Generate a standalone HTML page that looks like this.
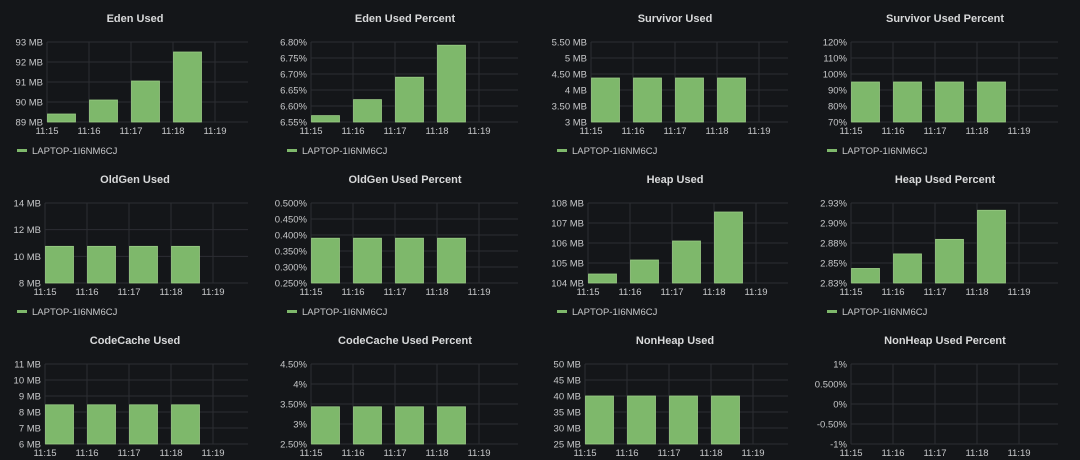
<!DOCTYPE html>
<html><head><meta charset="utf-8"><style>
html,body{margin:0;padding:0;background:#141619;width:1080px;height:460px;overflow:hidden}
svg{display:block;font-family:"Liberation Sans",sans-serif}
</style></head><body>
<svg id="c" width="1080" height="460"></svg>
<script>
const titles=["Eden Used","Eden Used Percent","Survivor Used","Survivor Used Percent","OldGen Used","OldGen Used Percent","Heap Used","Heap Used Percent","CodeCache Used","CodeCache Used Percent","NonHeap Used","NonHeap Used Percent"];
const times=["11:15","11:16","11:17","11:18","11:19"];
const edenUsed=[89.4,90.1,91.05,92.5];
const edenPct=[6.57,6.62,6.69,6.79];
const survUsed=[4.375,4.375,4.375,4.375];
const survPct=[95,95,95,95];
const oldUsed=[10.75,10.75,10.75,10.75];
const oldPct=[0.39,0.39,0.39,0.39];
const heapUsed=[104.45,105.15,106.1,107.55];
const heapPct=[2.845,2.865,2.885,2.925];
const ccUsed=[8.45,8.45,8.45,8.45];
const ccPct=[3.43,3.43,3.43,3.43];
const nhUsed=[40,40,40,40];
const nhPct=[];
const tickLabels=[
["89 MB","90 MB","91 MB","92 MB","93 MB"],
["6.55%","6.60%","6.65%","6.70%","6.75%","6.80%"],
["3 MB","3.50 MB","4 MB","4.50 MB","5 MB","5.50 MB"],
["70%","80%","90%","100%","110%","120%"],
["8 MB","10 MB","12 MB","14 MB"],
["0.250%","0.300%","0.350%","0.400%","0.450%","0.500%"],
["104 MB","105 MB","106 MB","107 MB","108 MB"],
["2.83%","2.85%","2.88%","2.90%","2.93%"],
["6 MB","7 MB","8 MB","9 MB","10 MB","11 MB"],
["2.50%","3%","3.50%","4%","4.50%"],
["25 MB","30 MB","35 MB","40 MB","45 MB","50 MB"],
["-1%","-0.50%","0%","0.500%","1%"]];
const ranges=[[89,93],[6.55,6.8],[3,5.5],[70,120],[8,14],[0.25,0.5],[104,108],[2.825,2.935],[6,11],[2.5,4.5],[25,50],[-1,1]];
const series=[edenUsed,edenPct,survUsed,survPct,oldUsed,oldPct,heapUsed,heapPct,ccUsed,ccPct,nhUsed,nhPct];
const lefts=[47,41,51,41,45,41,48,41,45,41,45,41];
const svg=document.getElementById('c');
const NS='http://www.w3.org/2000/svg';
function mk(t,a,p){const e=document.createElementNS(NS,t);for(const k in a)e.setAttribute(k,a[k]);(p||svg).appendChild(e);return e;}
for(let i=0;i<12;i++){
 const px=(i%4)*270, py=Math.floor(i/4)*161;
 const g=mk('g',{});
 
 
 const t=mk('text',{x:px+135,y:py+22,'text-anchor':'middle',fill:'#d8d9da','font-size':'11','font-weight':'bold'},g);t.textContent=titles[i];
 
 const L=px+lefts[i], R=px+248, T=py+42, B=py+122;
 const [mn,mx]=ranges[i];
 const y=v=>B-(v-mn)/(mx-mn)*(B-T);
 const x=k=>L+k*42;
 const labs=tickLabels[i];
 for(let k=0;k<labs.length;k++){
  const yy=T+(B-T)*(labs.length-1-k)/(labs.length-1);
  mk('line',{x1:L,x2:R,y1:yy,y2:yy,stroke:'#2c2e33','stroke-width':1},g);
  const tl=mk('text',{x:L-4,y:yy+3.5,'text-anchor':'end',fill:'#c7c8ca','font-size':'9.5'},g);tl.textContent=labs[k];
  
 }
 for(let k=0;k<times.length;k++){
  mk('line',{x1:x(k),x2:x(k),y1:T,y2:B,stroke:'#2c2e33','stroke-width':1},g);
  const tl=mk('text',{x:x(k),y:B+12,'text-anchor':'middle',fill:'#c7c8ca','font-size':'9.5'},g);tl.textContent=times[k];
  
 }
 series[i].forEach((v,k)=>{
  const b=mk('rect',{x:x(k)+0.5,y:y(v),width:28,height:B-y(v),fill:'#7eb86b',stroke:'#9acb85','stroke-width':0.8},g);
  
 });
 if(series[i].length){
  const lg=mk('g',{},g);
  mk('rect',{x:px+17,y:py+149,width:10,height:3,fill:'#7eb86b'},lg);
  const lt=mk('text',{x:px+32,y:py+154,fill:'#c7c8ca','font-size':'9.5'},lg);lt.textContent='LAPTOP-1I6NM6CJ';
 }
}
</script>
</body></html>
